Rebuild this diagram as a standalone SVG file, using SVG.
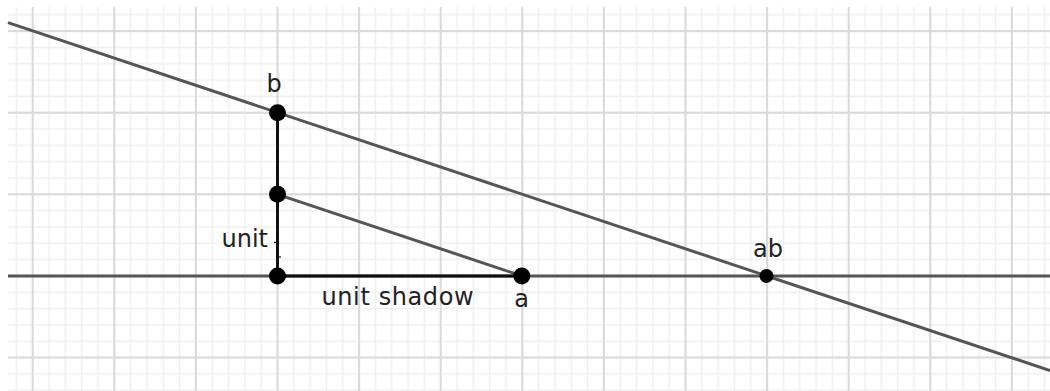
<svg xmlns="http://www.w3.org/2000/svg" width="1050" height="391" viewBox="0 0 1050 391">
  <style>
    .lbl { font-family: "DejaVu Sans", "Liberation Sans", sans-serif; font-size: 24px; fill: #222; }
    .line { stroke: #555; stroke-width: 3; fill: none; stroke-linecap: butt; }
    .seg { stroke: #111; stroke-width: 3; fill: none; }
    .tick { stroke: #111; stroke-width: 1.2; }
    .pt { fill: #000; }
  </style>
  <defs>
    <pattern id="minor" patternUnits="userSpaceOnUse" x="8.24" y="6.64" width="16.32" height="16.32">
      <line x1="8.16" y1="0" x2="8.16" y2="16.32" stroke="#efefef" stroke-width="1.5"/>
      <line x1="0" y1="8.16" x2="16.32" y2="8.16" stroke="#efefef" stroke-width="1.5"/>
    </pattern>
    <pattern id="major" patternUnits="userSpaceOnUse" x="-8.1" y="-9.7" width="81.6" height="81.6">
      <line x1="40.8" y1="0" x2="40.8" y2="81.6" stroke="#dadada" stroke-width="2"/>
      <line x1="0" y1="40.8" x2="81.6" y2="40.8" stroke="#dadada" stroke-width="2"/>
    </pattern>
  </defs>
  <rect width="1050" height="391" fill="#fff"/>
  <g id="grid">
    <rect x="8" y="7" width="1042" height="384" fill="url(#minor)"/>
    <rect x="8" y="7" width="1042" height="384" fill="url(#major)"/>
  </g>
  <g id="connectors">
    <line class="line" x1="8" y1="275.9" x2="1050" y2="275.9"/>
    <line class="line" x1="8" y1="22.6" x2="1050" y2="370.5"/>
    <line class="line" x1="277.5" y1="194.3" x2="521.8" y2="275.9"/>
    <line class="seg" x1="277.5" y1="112.7" x2="277.5" y2="275.9"/>
    <line class="seg" x1="277.5" y1="275.9" x2="521.8" y2="275.9"/>
    <line class="tick" x1="274" y1="242.5" x2="279" y2="242.5"/>
    <line class="tick" x1="276" y1="257" x2="281" y2="257"/>
  </g>
  <g id="node-b">
    <circle class="pt" cx="277.5" cy="112.7" r="8.5"/>
    <text class="lbl" x="274" y="92" text-anchor="middle">b</text>
  </g>
  <g id="node-unit">
    <circle class="pt" cx="277.5" cy="194.3" r="8.5"/>
    <text class="lbl" x="221.5" y="246.5">unit</text>
  </g>
  <g id="node-origin">
    <circle class="pt" cx="277.5" cy="275.9" r="8.5"/>
    <text class="lbl" x="321.5" y="305" letter-spacing="0.6">unit shadow</text>
  </g>
  <g id="node-a">
    <circle class="pt" cx="521.8" cy="275.9" r="8.5"/>
    <text class="lbl" x="521.7" y="306.5" text-anchor="middle">a</text>
  </g>
  <g id="node-ab">
    <circle class="pt" cx="766.5" cy="275.9" r="7"/>
    <text class="lbl" x="768" y="257" text-anchor="middle">ab</text>
  </g>
</svg>
